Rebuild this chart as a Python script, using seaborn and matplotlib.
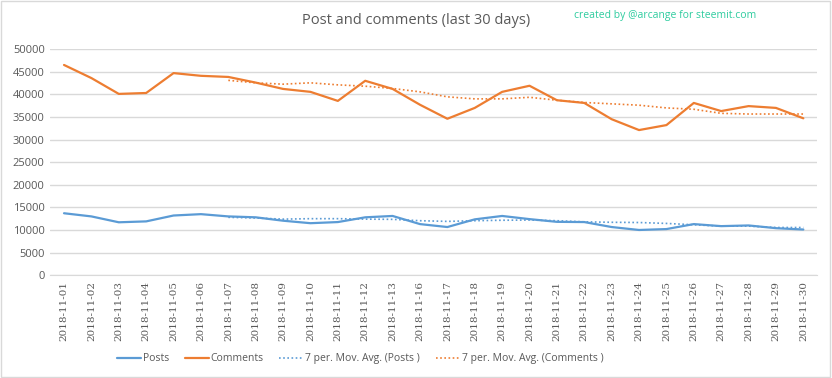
import numpy as np
import pandas as pd
import matplotlib
matplotlib.use("Agg")
import matplotlib.pyplot as plt
import seaborn as sns

dates = ["2018-11-01", "2018-11-02", "2018-11-03", "2018-11-04", "2018-11-05", "2018-11-06",
         "2018-11-07", "2018-11-08", "2018-11-09", "2018-11-10", "2018-11-11", "2018-11-12",
         "2018-11-13", "2018-11-16", "2018-11-17", "2018-11-18", "2018-11-19", "2018-11-20",
         "2018-11-21", "2018-11-22", "2018-11-23", "2018-11-24", "2018-11-25", "2018-11-26",
         "2018-11-27", "2018-11-28", "2018-11-29", "2018-11-30"]

posts = [13700, 13000, 11700, 11900, 13200, 13500, 13000, 12800, 12050, 11500, 11750, 12800,
         13100, 11300, 10650, 12350, 13100, 12400, 11800, 11750, 10650, 10000, 10200, 11300,
         10850, 11000, 10400, 10100]

comments = [46500, 43600, 40100, 40300, 44700, 44100, 43850, 42600, 41200, 40550, 38550, 43000,
            41200, 37700, 34600, 37000, 40550, 41900, 38700, 38100, 34500, 32100, 33200, 38100,
            36300, 37400, 37000, 34700]

# 7 per. moving averages (first 6 days have none)
posts_ma = [None] * 6 + [12800, 12650, 12400, 12500, 12500, 12400, 12350, 12050, 11900, 12050,
                         12150, 12200, 12050, 11800, 11700, 11650, 11450, 11150, 10850, 10850,
                         10550, 10550]
comments_ma = [None] * 6 + [43100, 42550, 42250, 42550, 42100, 41800, 41300, 40550, 39450, 39000,
                            39000, 39350, 38700, 38200, 37900, 37600, 37000, 36700, 35800, 35650,
                            35650, 35650]

BLUE = "#5b9bd5"
ORANGE = "#ed7d31"
GREY_TXT = "#595959"

sns.set_style("white")
plt.rcParams["font.family"] = ["Open Sans", "DejaVu Sans"]

df = pd.DataFrame({
    "pos": np.arange(len(dates)),
    "date": dates,
    "Posts": posts,
    "Comments": comments,
    "posts_ma": pd.array(posts_ma, dtype="Float64"),
    "comments_ma": pd.array(comments_ma, dtype="Float64"),
})

fig = plt.figure(figsize=(8.32, 3.78), dpi=100)
ax = fig.add_axes([0.0605, 0.272, 0.9215, 0.598])

sns.lineplot(data=df, x="pos", y="Posts", ax=ax, color=BLUE, linewidth=1.6, label="Posts")
sns.lineplot(data=df, x="pos", y="Comments", ax=ax, color=ORANGE, linewidth=1.6, label="Comments")
sns.lineplot(data=df.dropna(), x="pos", y="posts_ma", ax=ax, color=BLUE, linewidth=1.2,
             linestyle=(0, (1, 1.5)), label="7 per. Mov. Avg. (Posts )")
sns.lineplot(data=df.dropna(), x="pos", y="comments_ma", ax=ax, color=ORANGE, linewidth=1.2,
             linestyle=(0, (1, 1.5)), label="7 per. Mov. Avg. (Comments )")

ax.set_xlim(-0.5, len(dates) - 0.5)
ax.set_ylim(0, 50000)
ax.set_yticks(np.arange(0, 50001, 5000))
ax.set_yticklabels([str(v) for v in range(0, 50001, 5000)], fontsize=8, color=GREY_TXT)
ax.set_xticks(df["pos"])
ax.set_xticklabels(dates, rotation=90, fontsize=7.5, color=GREY_TXT, family="DejaVu Serif")
ax.tick_params(axis="both", length=0, pad=4)
ax.yaxis.grid(True, color="#d9d9d9", linewidth=1)
ax.set_axisbelow(True)
ax.set_xlabel("")
ax.set_ylabel("")
for side in ["top", "right", "left"]:
    ax.spines[side].set_visible(False)
ax.spines["bottom"].set_color("#d9d9d9")

fig.text(0.5, 0.945, "Post and comments (last 30 days)", ha="center", va="center",
         fontsize=10.5, color=GREY_TXT)
fig.text(0.80, 0.96, "created by @arcange for steemit.com", ha="center", va="center",
         fontsize=7.5, color="#2ecc9f")

ax.legend(loc="center", bbox_to_anchor=(0.404, -0.37), ncol=4, frameon=False, fontsize=7.5,
          handlelength=2.3, columnspacing=1.5, labelcolor=GREY_TXT, handletextpad=0.2)

fig.patches.append(plt.Rectangle((0.001, 0.002), 0.997, 0.996, transform=fig.transFigure,
                                 fill=False, edgecolor="#d9d9d9", linewidth=1))

fig.savefig("out.png", dpi=100, facecolor="white")
